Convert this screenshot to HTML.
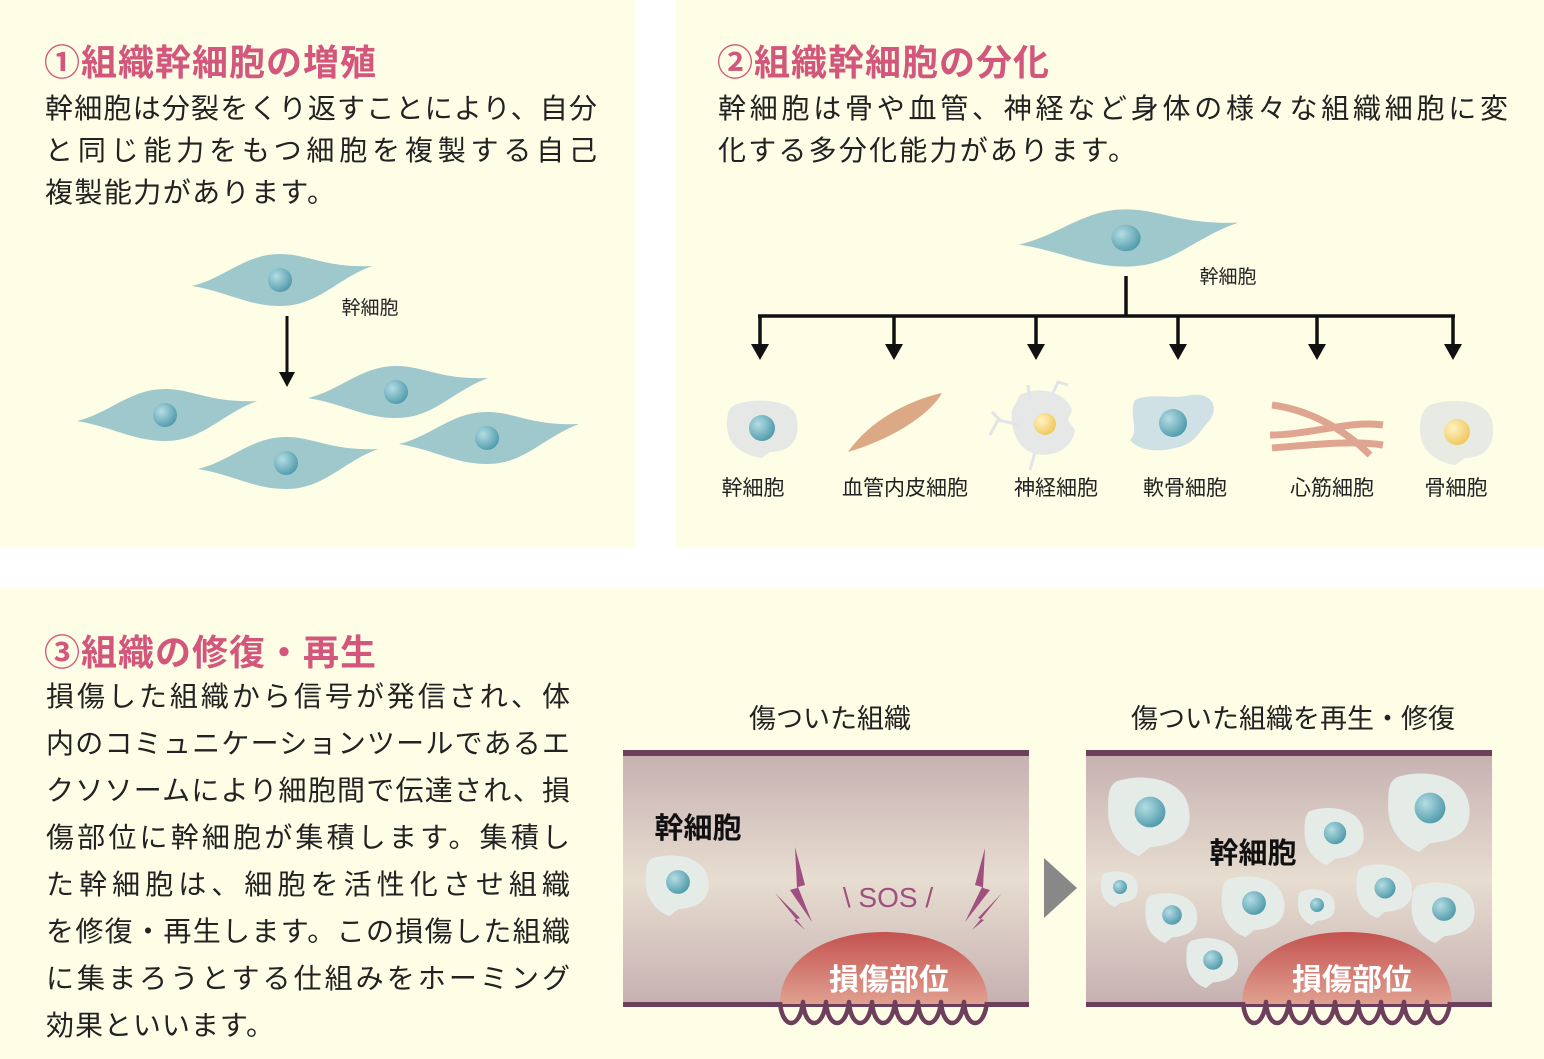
<!DOCTYPE html>
<html><head><meta charset="utf-8"><style>
body{margin:0;width:1544px;height:1059px;background:#fff;position:relative;overflow:hidden;font-family:"Liberation Sans","Noto Sans CJK JP",sans-serif;}
.p{position:absolute;background:#fefee6;}
.t{position:absolute;color:#d3577c;font-size:36px;font-weight:bold;white-space:nowrap;letter-spacing:1px}
.l{position:absolute;font-size:28px;color:#222;white-space:nowrap;text-align:justify;text-align-last:justify;line-height:1}
svg{position:absolute;left:0;top:0}
</style></head><body>
<div class="p" style="left:0;top:0;width:635px;height:548px"></div>
<div class="p" style="left:676px;top:0;width:868px;height:548px"></div>
<div class="p" style="left:0;top:588px;width:1544px;height:471px"></div>

<div class="t" style="left:44px;top:34px">①組織幹細胞の増殖</div>
<div class="l" style="left:45px;top:95px;width:552px">幹細胞は分裂をくり返すことにより、自分</div>
<div class="l" style="left:45px;top:137px;width:552px">と同じ能力をもつ細胞を複製する自己</div>
<div class="l" style="left:45px;top:179px;width:290px">複製能力があります。</div>

<div class="t" style="left:717px;top:34px">②組織幹細胞の分化</div>
<div class="l" style="left:718px;top:95px;width:790px">幹細胞は骨や血管、神経など身体の様々な組織細胞に変</div>
<div class="l" style="left:718px;top:137px;width:418px">化する多分化能力があります。</div>

<div class="t" style="left:44px;top:624px">③組織の修復・再生</div>
<div class="l" style="left:46px;top:683px;width:524px">損傷した組織から信号が発信され、体</div>
<div class="l" style="left:46px;top:730px;width:524px">内のコミュニケーションツールであるエ</div>
<div class="l" style="left:46px;top:777px;width:524px">クソソームにより細胞間で伝達され、損</div>
<div class="l" style="left:46px;top:824px;width:524px">傷部位に幹細胞が集積します。集積し</div>
<div class="l" style="left:46px;top:871px;width:524px">た幹細胞は、細胞を活性化させ組織</div>
<div class="l" style="left:46px;top:918px;width:524px">を修復・再生します。この損傷した組織</div>
<div class="l" style="left:46px;top:965px;width:524px">に集まろうとする仕組みをホーミング</div>
<div class="l" style="left:46px;top:1012px;width:228px">効果といいます。</div>

<svg width="1544" height="1059" viewBox="0 0 1544 1059" font-family="Liberation Sans, Noto Sans CJK JP, sans-serif">
<defs>
<radialGradient id="nuc" cx="0.35" cy="0.35" r="0.7"><stop offset="0" stop-color="#b5dde3"/><stop offset="1" stop-color="#4f9aab"/></radialGradient>
<radialGradient id="ynuc" cx="0.35" cy="0.35" r="0.7"><stop offset="0" stop-color="#fff3c4"/><stop offset="1" stop-color="#f0c75a"/></radialGradient>
<linearGradient id="tis" x1="0" y1="0" x2="0" y2="1"><stop offset="0" stop-color="#c6b0b1"/><stop offset="0.5" stop-color="#e7ddd0"/><stop offset="1" stop-color="#c6b0b1"/></linearGradient>
<linearGradient id="wnd" x1="0" y1="0" x2="0" y2="1"><stop offset="0" stop-color="#c4524f"/><stop offset="1" stop-color="#e0a090"/></linearGradient>
<g id="cell"><path d="M-88,6 C-55,-2 -35,-26 0,-26 C28,-26 45,-12 92,-14 C55,0 38,26 0,26 C-32,26 -52,12 -88,6Z" fill="#9fc8cc"/><circle cx="0" cy="0" r="12" fill="url(#nuc)"/></g>
<g id="sc"><path d="M-30,-28 C-5,-36 30,-30 35,-5 C40,20 25,30 0,32 L-10,40 C-25,35 -38,20 -38,0 C-38,-15 -38,-24 -30,-28Z" fill="#e5ebe7"/><circle cx="0" cy="0" r="14" fill="url(#nuc)"/></g>
<path id="wave" d="M0,0 c2,28 20,28 23,0 c2,28 20,28 23,0 c2,28 20,28 23,0 c2,28 20,28 23,0 c2,28 20,28 23,0 c2,28 20,28 23,0 c2,28 20,28 23,0 c2,28 20,28 23,0 c2,28 20,28 23,0" fill="none" stroke="#6e3f5a" stroke-width="4.5" stroke-linejoin="round"/>
</defs>
<!-- panel 1 -->
<use href="#cell" transform="translate(280,280)"/>
<text x="370" y="314" font-size="19" text-anchor="middle" fill="#222">幹細胞</text>
<line x1="287" y1="316" x2="287" y2="375" stroke="#111" stroke-width="3"/>
<path d="M279,372 L295,372 L287,387Z" fill="#111"/>
<use href="#cell" transform="translate(165,415)"/>
<use href="#cell" transform="translate(396,392)"/>
<use href="#cell" transform="translate(286,463)"/>
<use href="#cell" transform="translate(487,438)"/>
<!-- panel 2 -->
<use href="#cell" transform="translate(1126,238) scale(1.22,1.1)"/>
<text x="1228" y="283" font-size="19" text-anchor="middle" fill="#222">幹細胞</text>
<g stroke="#111" stroke-width="3.5" fill="none">
<line x1="1126" y1="276" x2="1126" y2="316"/>
<line x1="758" y1="316" x2="1455" y2="316"/>
<line x1="760" y1="316" x2="760" y2="348"/><line x1="894" y1="316" x2="894" y2="348"/><line x1="1036" y1="316" x2="1036" y2="348"/><line x1="1178" y1="316" x2="1178" y2="348"/><line x1="1317" y1="316" x2="1317" y2="348"/><line x1="1453" y1="316" x2="1453" y2="348"/>
</g>
<g fill="#111"><path d="M751,344h18l-9,16z"/><path d="M885,344h18l-9,16z"/><path d="M1027,344h18l-9,16z"/><path d="M1169,344h18l-9,16z"/><path d="M1308,344h18l-9,16z"/><path d="M1444,344h18l-9,16z"/></g>
<path d="M735,405 C750,398 790,398 796,415 C802,440 790,452 770,452 L762,458 C742,455 727,445 727,425 C727,415 728,408 735,405Z" fill="#e6e8e6"/>
<circle cx="762" cy="428" r="13" fill="url(#nuc)"/>
<path d="M848,452 C870,420 910,400 942,393 C930,415 890,440 848,452Z" fill="#dba986"/>
<path d="M1020,395 C1040,385 1065,392 1072,410 L1068,420 L1075,430 C1072,450 1050,460 1030,452 C1015,445 1010,425 1012,410Z" fill="#e6e8e8"/>
<g stroke="#e2e5e8" stroke-width="3" fill="none"><path d="M1030,400 L1028,385 M1052,395 L1058,382 L1068,385 M1020,425 L998,420 L990,435 M1000,420 L992,412 M1035,452 L1030,470"/></g>
<circle cx="1045" cy="424" r="11" fill="url(#ynuc)"/>
<path d="M1135,400 C1150,392 1175,400 1190,395 C1210,392 1220,405 1210,420 C1200,430 1195,445 1175,448 C1160,452 1140,452 1130,440 C1140,430 1128,415 1135,400Z" fill="#cfe1e5"/>
<circle cx="1173" cy="423" r="14" fill="url(#nuc)"/>
<g stroke="#e0a590" stroke-width="7" fill="none"><path d="M1272,405 C1310,410 1345,430 1370,455"/><path d="M1270,435 C1310,435 1350,420 1383,425"/><path d="M1272,448 C1310,445 1350,440 1383,445"/></g>
<path d="M1430,405 C1450,398 1485,398 1492,420 C1497,445 1485,458 1465,458 L1455,465 C1435,462 1420,450 1420,430 C1420,418 1422,410 1430,405Z" fill="#e8eae4"/>
<circle cx="1457" cy="432" r="13" fill="url(#ynuc)"/>
<g font-size="21" fill="#222" text-anchor="middle"><text x="753" y="495">幹細胞</text><text x="905" y="495">血管内皮細胞</text><text x="1056" y="495">神経細胞</text><text x="1185" y="495">軟骨細胞</text><text x="1332" y="495">心筋細胞</text><text x="1456" y="495">骨細胞</text></g>
<!-- panel 3 -->
<text x="830" y="728" font-size="27" fill="#222" text-anchor="middle">傷ついた組織</text>
<text x="1293" y="728" font-size="27" fill="#222" text-anchor="middle">傷ついた組織を再生・修復</text>
<rect x="623" y="752" width="406" height="254" fill="url(#tis)"/>
<rect x="1086" y="752" width="406" height="254" fill="url(#tis)"/>
<rect x="623" y="750" width="406" height="6" fill="#6e3f5a"/>
<rect x="1086" y="750" width="406" height="6" fill="#6e3f5a"/>
<rect x="623" y="1002" width="406" height="5" fill="#6e3f5a"/>
<rect x="1086" y="1002" width="406" height="5" fill="#6e3f5a"/>
<path d="M780,1004 C780,960 825,932 884,932 C943,932 988,960 988,1004Z" fill="url(#wnd)"/>
<path d="M1242,1004 C1242,960 1288,932 1347,932 C1406,932 1452,960 1452,1004Z" fill="url(#wnd)"/>
<use href="#wave" transform="translate(780,1002)"/>
<use href="#wave" transform="translate(1243,1002)"/>
<text x="889" y="990" font-size="30" font-weight="bold" fill="#fff" text-anchor="middle">損傷部位</text>
<text x="1352" y="990" font-size="30" font-weight="bold" fill="#fff" text-anchor="middle">損傷部位</text>
<text x="698" y="838" font-size="29" font-weight="bold" fill="#111" text-anchor="middle">幹細胞</text>
<text x="1253" y="863" font-size="29" font-weight="bold" fill="#111" text-anchor="middle">幹細胞</text>
<use href="#sc" transform="translate(678,882) scale(0.85)"/>
<g fill="#a05080">
<path d="M795,847 L805,885 L798,887 L812,922 L790,890 L797,888Z"/>
<path d="M775,893 L800,918 L794,920 L805,930Z"/>
<path d="M985,848 L975,885 L982,887 L965,922 L990,890 L983,888Z"/>
<path d="M1002,893 L978,918 L984,920 L972,930Z"/>
</g>
<text x="888" y="907" font-size="28" fill="#a05080" text-anchor="middle">\ SOS /</text>
<path d="M1044,858 L1077,888 L1044,918Z" fill="#888"/>
<use href="#sc" transform="translate(1150,812) scale(1.1)"/>
<use href="#sc" transform="translate(1430,808) scale(1.1)"/>
<use href="#sc" transform="translate(1335,833) scale(0.8)"/>
<use href="#sc" transform="translate(1120,887) scale(0.5)"/>
<use href="#sc" transform="translate(1172,915) scale(0.7)"/>
<use href="#sc" transform="translate(1254,903) scale(0.85)"/>
<use href="#sc" transform="translate(1317,905) scale(0.5)"/>
<use href="#sc" transform="translate(1385,888) scale(0.75)"/>
<use href="#sc" transform="translate(1444,909) scale(0.85)"/>
<use href="#sc" transform="translate(1213,960) scale(0.7)"/>
</svg>
</body></html>
